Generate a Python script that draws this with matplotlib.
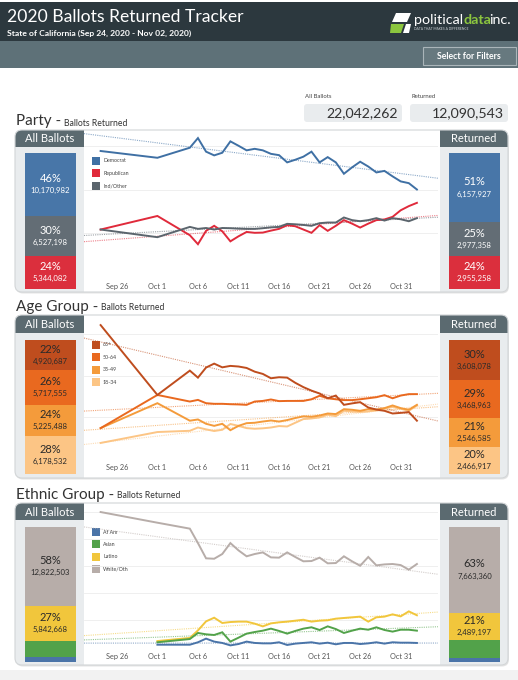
import numpy as np
import pandas as pd
import matplotlib
matplotlib.use("Agg")
import matplotlib.pyplot as plt
import matplotlib.dates as mdates
from matplotlib.patches import FancyBboxPatch, Rectangle, Polygon

plt.rcParams['font.family'] = ['Lato', 'DejaVu Sans']

# ---------------- data ----------------
dates = pd.to_datetime(["2020-09-24", "2020-10-01", "2020-10-05"]).append(
    pd.date_range("2020-10-06", "2020-11-02"))
tick_dates = pd.to_datetime(["2020-09-26", "2020-10-01", "2020-10-06", "2020-10-11",
                             "2020-10-16", "2020-10-21", "2020-10-26", "2020-10-31"])
tick_labels = ["Sep 26", "Oct 1", "Oct 6", "Oct 11", "Oct 16", "Oct 21", "Oct 26", "Oct 31"]

party_names = ["Democrat", "Republican", "Ind/Other"]
democrat = [57.6, 54.5, 59.1, 63.5, 57.3, 55.6, 56.8, 62.0, 60.0, 57.9, 58.6, 57.9, 56.3, 55.7, 52.4,
            53.6, 55.0, 57.3, 52.4, 54.8, 52.4, 47.2, 50.1, 52.7, 50.5, 47.8, 48.5, 46.0, 43.7, 42.9, 40.0]
republican = [21.7, 27.9, 19.1, 15.0, 21.1, 23.4, 20.9, 16.3, 18.6, 20.6, 20.2, 20.3, 21.2, 22.0, 23.7,
              23.2, 21.7, 20.2, 23.7, 21.1, 23.4, 26.0, 24.4, 22.6, 24.4, 26.0, 26.3, 27.5, 30.5, 32.4, 33.9]
ind_other = [21.7, 18.2, 22.9, 22.0, 22.4, 21.7, 22.4, 22.3, 22.1, 22.0, 22.0, 22.3, 22.7, 22.9, 24.3,
             24.1, 23.8, 23.4, 24.6, 24.9, 24.9, 27.2, 26.0, 25.5, 26.0, 26.9, 25.8, 26.9, 26.4, 25.5, 26.9]
party_bar_names = ["Democrat", "Ind/Other", "Republican"]
party_all = [10170982, 6527198, 5344082]
party_returned = [6157927, 2977358, 2955258]

age_names = ["65+", "50-64", "35-49", "18-34"]
age_65 = [64.5, 30.6, 42.4, 39.0, 43.9, 45.8, 44.0, 44.7, 44.4, 43.7, 41.9, 40.8, 38.7, 39.2, 39.0,
          36.5, 34.4, 32.7, 31.3, 29.0, 30.3, 25.8, 26.5, 27.1, 24.5, 23.5, 22.9, 21.6, 21.9, 22.3, 18.1]
age_50 = [14.5, 30.6, 27.4, 28.2, 26.6, 26.3, 26.3, 26.1, 26.0, 25.8, 27.4, 27.7, 28.4, 27.6, 27.7,
          27.7, 27.7, 28.5, 30.2, 29.0, 28.5, 28.1, 28.1, 28.5, 29.0, 29.5, 30.5, 29.0, 30.3, 31.0, 31.0]
age_35 = [14.5, 26.6, 18.1, 18.7, 16.6, 15.6, 16.6, 13.5, 15.6, 16.9, 17.1, 17.7, 18.2, 17.7, 18.4,
          19.4, 20.2, 20.0, 20.6, 21.6, 21.3, 23.7, 23.4, 22.9, 23.7, 23.5, 24.2, 25.5, 24.2, 23.4, 25.8]
age_18 = [7.3, 12.6, 13.2, 14.8, 13.9, 13.1, 13.7, 16.5, 15.6, 14.5, 14.2, 14.4, 14.8, 15.5, 15.3,
          17.1, 18.9, 19.2, 19.7, 21.0, 20.3, 22.9, 22.6, 22.4, 22.6, 23.2, 24.0, 24.8, 23.9, 22.9, 25.5]
age_all = [4920687, 5717555, 5225488, 6178532]
age_returned = [3608078, 3468963, 2546585, 2466917]

eth_names = ["Af Am", "Asian", "Latino", "White/Oth"]
white_oth = [100.0, 92.1, 87.7, 77.0, 65.7, 65.4, 68.9, 77.0, 71.6, 67.2, 68.9, 70.1, 66.4, 66.2, 70.1,
             66.7, 63.5, 63.7, 66.2, 62.0, 62.2, 67.2, 63.5, 60.2, 66.7, 60.5, 61.2, 61.5, 60.7, 57.3, 61.5]
latino = [4.4, 6.7, 12.3, 19.0, 21.7, 17.8, 18.5, 18.8, 18.8, 17.3, 15.3, 17.5, 18.3, 18.8, 19.5,
          20.2, 18.8, 19.5, 19.8, 21.0, 21.5, 22.0, 22.5, 18.8, 22.0, 22.5, 24.2, 22.7, 26.4, 23.5]
asian = [3.5, 5.9, 10.4, 9.4, 8.9, 10.9, 4.0, 6.9, 9.9, 11.1, 12.1, 13.6, 11.9, 9.9, 11.9,
         13.6, 14.6, 12.6, 15.3, 13.3, 10.4, 12.1, 13.6, 12.8, 14.6, 12.6, 11.4, 12.8, 12.8, 12.1]
af_am = [1.7, 1.7, 3.5, 6.2, 4.0, 3.0, 1.2, 2.2, 4.0, 3.0, 2.7, 2.7, 3.5, 1.5, 2.5,
         3.0, 3.5, 2.5, 3.2, 2.0, 3.0, 3.0, 2.2, 2.7, 3.5, 2.5, 3.5, 3.2, 3.2, 3.0]
eth_bar_names = ["White/Oth", "Latino", "Asian", "Af Am"]
eth_all = [12822503, 5842668, 2640000, 737091]
eth_returned = [7663360, 2489197, 1560000, 377986]

total_all = "22,042,262"
total_returned = "12,090,543"

# ---------------- layout ----------------
W, H = 518, 680
fig = plt.figure(figsize=(W / 100, H / 100), dpi=100)
fig.patch.set_facecolor('white')
bg = fig.add_axes([0, 0, 1, 1])
bg.set_xlim(0, W); bg.set_ylim(H, 0); bg.axis('off')
fig.canvas.draw()
r = fig.canvas.get_renderer()


def fax(x0, y0, x1, y1, z=1):
    a = fig.add_axes([x0 / W, 1 - y1 / H, (x1 - x0) / W, (y1 - y0) / H])
    a.set_zorder(z)
    return a


def right_edge(t):
    bb = t.get_window_extent(r)
    return bg.transData.inverted().transform((bb.x1, bb.y0))[0]


TAB = '#5b6a70'
COL = '#e9ecee'
TXT = '#333333'

# header
bg.add_patch(Rectangle((0, 2), W, 40, fc='#2c383e', ec='none'))
bg.add_patch(Rectangle((0, 41), W, 27, fc='#5e7178', ec='none'))
bg.text(7, 17, "2020 Ballots Returned Tracker", color='white', fontsize=12.6, va='center', ha='left')
bg.text(7, 33, "State of California (Sep 24, 2020 - Nov 02, 2020)", color='white', fontsize=6.1,
        fontweight='bold', va='center', ha='left')
bg.add_patch(FancyBboxPatch((423, 47), 93, 18, boxstyle="square,pad=0", fc='#67797f', ec='#aab5b9', lw=0.8))
bg.text(469, 56.5, "Select for Filters", color='white', fontsize=6.3, fontweight='bold', ha='center', va='center')
# logo
bg.add_patch(Polygon([(396, 13), (411, 13), (407, 22), (392, 22)], closed=True, fc='white', ec='none'))
bg.add_patch(Polygon([(391, 24), (404, 24), (401, 33), (390, 33)], closed=True, fc='#8cc63f', ec='none'))
bg.add_patch(Polygon([(406, 24), (411, 24), (409, 33), (403, 33)], closed=True, fc='white', ec='none'))
t1 = bg.text(414, 20.5, "political", color='white', fontsize=10.3, va='center', ha='left')
t2 = bg.text(right_edge(t1), 20.5, "data", color='#8cc63f', fontsize=10.3, fontweight='bold',
             va='center', ha='left')
bg.text(right_edge(t2) - 1.5, 20.5, "inc.", color='white', fontsize=10.3, va='center', ha='left')
bg.text(414, 29.5, "DATA THAT MAKES A DIFFERENCE", color='#c8cfd2', fontsize=2.4, va='center', ha='left')

# totals
for lx, lab, val in [(304, "All Ballots", total_all), (410, "Returned", total_returned)]:
    bg.text(lx + 1, 97, lab, fontsize=4.3, color='#444444', va='center', ha='left')
    bg.add_patch(FancyBboxPatch((lx, 104), 98, 18, boxstyle="round,pad=0,rounding_size=3",
                                fc='#e9ecee', ec='none'))
    bg.text(lx + 94, 113.5, val, fontsize=10.2, color=TXT, ha='right', va='center')

x_left = mdates.date2num(pd.Timestamp("2020-09-24")) - 2.05
x_right = mdates.date2num(pd.Timestamp("2020-09-24")) + 41.6


def trend(ax, d, v, color):
    xn = mdates.date2num(d)
    k, b = np.polyfit(xn, v, 1)
    xs = np.array([x_left, x_right])
    ax.plot(xs, k * xs + b, color=color, lw=0.8, ls=(0, (1, 1)), alpha=0.6, zorder=2)


def stacked(x0, x1, y0, y1, names, vals, colors, tcolor):
    a = fax(x0, y0, x1, y1, z=3)
    tot = float(sum(vals))
    bottom = 0
    for n, v, c in zip(names, vals, colors):
        a.bar([0], [v], bottom=bottom, width=1, color=c, edgecolor='none')
        share = v / tot
        if share > 0.15:
            mid = bottom + v / 2
            a.text(0, mid - tot * 0.043, f"{share * 100:.0f}%", ha='center', va='center',
                   fontsize=8, color=tcolor)
            a.text(0, mid + tot * 0.047, f"{v:,}", ha='center', va='center', fontsize=5.6, color=tcolor)
        bottom += v
    a.set_xlim(-0.5, 0.5)
    a.set_ylim(tot, 0)
    a.axis('off')


def section(top, bot, tabb, bar0, bar1, axbot, ymax, title, legend_y0, series, bar_names,
            all_vals, ret_vals, bar_colors, bar_tcolor, gridstep, legend_names, legend_colors):
    bg.add_patch(FancyBboxPatch((16, top + 1.5), 493, bot - top, boxstyle="round,pad=0,rounding_size=7",
                                fc='#e4e4e4', ec='none'))
    panel = FancyBboxPatch((15, top), 493, bot - top, boxstyle="round,pad=0,rounding_size=7",
                           fc='white', ec='none')
    bg.add_patch(panel)
    for x0, x1 in [(15, 84), (440, 508)]:
        rc = Rectangle((x0, top), x1 - x0, bot - top, fc=COL, ec='none')
        bg.add_patch(rc); rc.set_clip_path(panel)
        tb = Rectangle((x0, top), x1 - x0, tabb - top, fc=TAB, ec='none')
        bg.add_patch(tb); tb.set_clip_path(panel)
    bg.add_patch(FancyBboxPatch((15, top), 493, bot - top, boxstyle="round,pad=0,rounding_size=7",
                                fc='none', ec='#d2d5d7', lw=0.8))
    bg.text(50, (top + tabb) / 2 + 0.5, "All Ballots", color='white', fontsize=8, ha='center', va='center')
    bg.text(474, (top + tabb) / 2 + 0.5, "Returned", color='white', fontsize=8, ha='center', va='center')
    # title
    tt = bg.text(16, top - 8.5, title + " -", fontsize=11, color=TXT, ha='left', va='center')
    bg.text(right_edge(tt) + 3, top - 7, "Ballots Returned", fontsize=6.2, color=TXT, ha='left', va='center')

    # chart
    ax = fax(84, top, 438, axbot, z=2)
    ax.set_facecolor('none')
    for d, v, c in series:
        trend(ax, d, v, c)
    for d, v, c in series:
        ax.plot(d, v, color=c, lw=1.4, zorder=3, solid_joinstyle='miter')
    ax.set_xlim(x_left, x_right)
    ax.set_ylim(0, ymax)
    ax.set_yticks(np.arange(0, ymax, gridstep))
    ax.grid(axis='y', color='#ededed', lw=0.6)
    ax.set_axisbelow(True)
    ax.tick_params(axis='y', left=False, labelleft=False)
    ax.set_xticks(mdates.date2num(tick_dates))
    ax.set_xticklabels(tick_labels)
    ax.tick_params(axis='x', length=0, pad=4.5, labelsize=5.3, labelcolor='#555555')
    for s in ax.spines.values():
        s.set_visible(False)

    # legend
    for i, (n, c) in enumerate(zip(legend_names, legend_colors)):
        y = legend_y0 + i * 12.4
        bg.add_patch(Rectangle((92, y), 8, 8, fc=c, ec='none', zorder=5))
        bg.text(103, y + 4, n, fontsize=3.8, color='#444444', va='center', ha='left', zorder=5)

    stacked(25, 76, bar0, bar1, bar_names, all_vals, bar_colors, bar_tcolor)
    stacked(449, 500, bar0, bar1, bar_names, ret_vals, bar_colors, bar_tcolor)


d_all = dates
d_eth = dates[1:]

# Party
c_dem, c_rep, c_oth = '#3f70a4', '#e02a3b', '#5b656d'
section(130, 292, 147, 153, 289, 277, 67.2, "Party", 157,
        [(d_all, democrat, c_dem), (d_all, republican, c_rep), (d_all, ind_other, c_oth)],
        party_bar_names, party_all, party_returned, ['#4876a8', '#636d75', '#db2f3d'], 'white', 20,
        party_names, [c_dem, c_rep, c_oth])

# Age
c65, c50, c35, c18 = '#bf4d1e', '#e9691f', '#f49b3b', '#fcc585'
section(315, 478, 333, 340, 474, 458, 69.4, "Age Group", 341,
        [(d_all, age_18, c18), (d_all, age_35, c35), (d_all, age_50, c50), (d_all, age_65, c65)],
        age_names, age_all, age_returned, [c65, c50, c35, c18], '#2a2a2a', 20,
        age_names, [c65, c50, c35, c18])

# Ethnic
c_af, c_as, c_la, c_wh = '#4a74a8', '#52a24a', '#f1c63c', '#b7ada9'
section(503, 665, 520, 527, 662, 647, 106.7, "Ethnic Group", 528,
        [(d_all, white_oth, c_wh), (d_eth, latino, c_la), (d_eth, asian, c_as), (d_eth, af_am, c_af)],
        eth_bar_names, eth_all, eth_returned, [c_wh, c_la, c_as, c_af], '#2a2a2a', 20,
        eth_names, [c_af, c_as, c_la, c_wh])

bg.add_patch(Rectangle((0, 670), W, 10, fc='#f2f2f2', ec='none'))

fig.savefig("out.png", dpi=100, facecolor='white')
